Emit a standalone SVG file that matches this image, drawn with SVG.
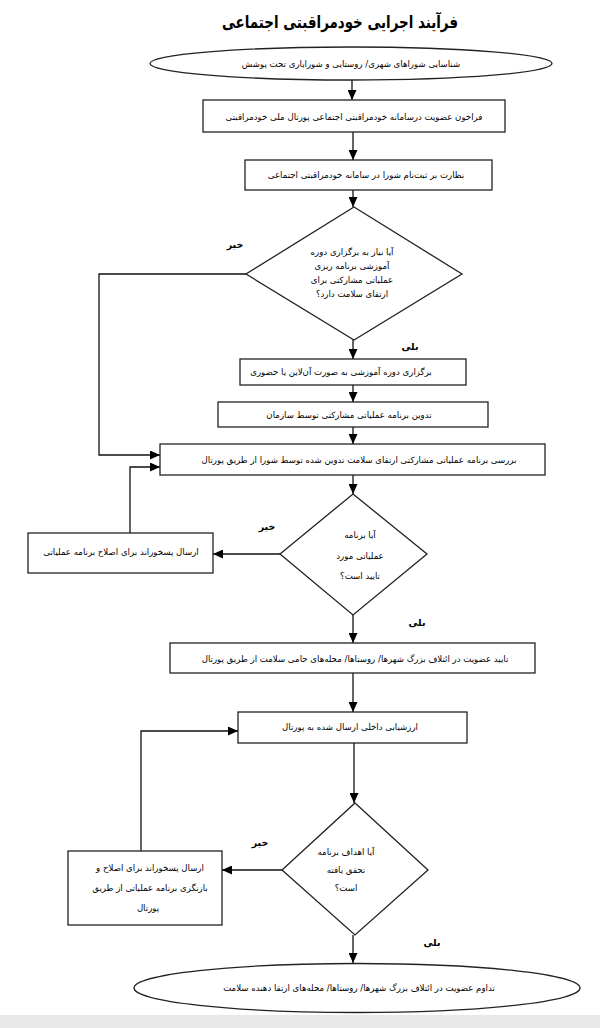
<svg xmlns="http://www.w3.org/2000/svg" width="600" height="1028" viewBox="0 0 600 1028">
<style>
.box{fill:#fff;stroke:#222;stroke-width:1.3}
.t{font-family:"DejaVu Sans",sans-serif;font-size:8.6px;fill:#000;text-anchor:middle;direction:rtl}
.lbl{font-family:"DejaVu Sans",sans-serif;font-size:9.5px;font-weight:bold;fill:#000;text-anchor:middle;direction:rtl}
.ttl{font-family:"DejaVu Sans",sans-serif;font-size:17px;font-weight:bold;fill:#000;text-anchor:middle;direction:rtl}
.c{fill:none;stroke:#111;stroke-width:1.3}
</style>
<defs>
<marker id="ah" markerUnits="userSpaceOnUse" markerWidth="10" markerHeight="9" refX="10" refY="4.5" orient="auto">
<path d="M0,0 L10,4.5 L0,9 z" fill="#000"/>
</marker>
</defs>
<rect x="0" y="1015" width="600" height="13" fill="#e8e8e8"/>
<text class="ttl" x="340" y="28" textLength="236" lengthAdjust="spacingAndGlyphs">فرآیند اجرایی خودمراقبتی اجتماعی</text>
<g id="connectors">
<line class="c" x1="352" y1="80" x2="352" y2="100" marker-end="url(#ah)"/>
<line class="c" x1="353" y1="132" x2="353" y2="160" marker-end="url(#ah)"/>
<line class="c" x1="353" y1="190" x2="353" y2="207" marker-end="url(#ah)"/>
<line class="c" x1="353" y1="340" x2="353" y2="359" marker-end="url(#ah)"/>
<line class="c" x1="353" y1="385" x2="353" y2="402" marker-end="url(#ah)"/>
<line class="c" x1="353" y1="427" x2="353" y2="444" marker-end="url(#ah)"/>
<polyline class="c" points="246,274 99,274 99,455 160,455" marker-end="url(#ah)"/>
<line class="c" x1="353" y1="475" x2="353" y2="494" marker-end="url(#ah)"/>
<line class="c" x1="280" y1="554" x2="213" y2="554" marker-end="url(#ah)"/>
<polyline class="c" points="130,533 130,467 160,467" marker-end="url(#ah)"/>
<line class="c" x1="353" y1="615" x2="353" y2="643" marker-end="url(#ah)"/>
<line class="c" x1="353" y1="673" x2="353" y2="712" marker-end="url(#ah)"/>
<line class="c" x1="354" y1="743" x2="354" y2="803" marker-end="url(#ah)"/>
<line class="c" x1="282" y1="870" x2="222" y2="870" marker-end="url(#ah)"/>
<polyline class="c" points="141,851 141,731 238,731" marker-end="url(#ah)"/>
<line class="c" x1="353" y1="935" x2="353" y2="963" marker-end="url(#ah)"/>
</g>
<g id="start">
<ellipse class="box" cx="351" cy="63.5" rx="201" ry="16.5"/>
<text class="t" x="351" y="67">شناسایی شوراهای شهری/ روستایی و شورایاری تحت پوشش</text>
</g>
<g id="call">
<rect class="box" x="203" y="100" width="302" height="32"/>
<text class="t" x="354" y="120">فراخون عضویت درسامانه خودمراقبتی اجتماعی پورتال ملی خودمراقبتی</text>
</g>
<g id="monitor">
<rect class="box" x="245" y="160" width="247" height="30"/>
<text class="t" x="366" y="178">نظارت بر ثبت‌نام شورا در سامانه خودمراقبتی اجتماعی</text>
</g>
<g id="q1">
<polygon class="box" points="354,207 462,274 354,340 246,274"/>
<text class="t" x="352" y="255">آیا نیاز به برگزاری دوره</text>
<text class="t" x="352" y="269">آموزشی برنامه ریزی</text>
<text class="t" x="352" y="283">عملیاتی مشارکتی برای</text>
<text class="t" x="352" y="297">ارتقای سلامت دارد؟</text>
</g>
<g id="training">
<rect class="box" x="240" y="359" width="226" height="26"/>
<text class="t" x="341" y="375">برگزاری دوره آموزشی به صورت آن‌لاین یا حضوری</text>
</g>
<g id="draft">
<rect class="box" x="218" y="402" width="270" height="25"/>
<text class="t" x="349" y="418">تدوین برنامه عملیاتی مشارکتی توسط سازمان</text>
</g>
<g id="review">
<rect class="box" x="160" y="444" width="385" height="31"/>
<text class="t" x="359" y="463">بررسی برنامه عملیاتی مشارکتی ارتقای سلامت تدوین شده توسط شورا از طریق پورتال</text>
</g>
<g id="q2">
<polygon class="box" points="353,494 427,554 353,615 280,554"/>
<text class="t" x="360" y="538">آیا برنامه</text>
<text class="t" x="360" y="559">عملیاتی مورد</text>
<text class="t" x="360" y="579">تایید است؟</text>
</g>
<g id="feedback1">
<rect class="box" x="28" y="533" width="185" height="40"/>
<text class="t" x="121" y="555">ارسال پسخوراند برای اصلاح برنامه عملیاتی</text>
</g>
<g id="confirm">
<rect class="box" x="170" y="643" width="365" height="30"/>
<text class="t" x="355" y="662">تایید عضویت در ائتلاف بزرگ شهرها/ روستاها/ محله‌های حامی سلامت از طریق پورتال</text>
</g>
<g id="evaluate">
<rect class="box" x="238" y="712" width="229" height="31"/>
<text class="t" x="350" y="730">ارزشیابی داخلی ارسال شده به پورتال</text>
</g>
<g id="q3">
<polygon class="box" points="355,803 428,870 355,935 282,870"/>
<text class="t" x="346" y="855">آیا اهداف برنامه</text>
<text class="t" x="346" y="873">تحقق یافته</text>
<text class="t" x="346" y="891">است؟</text>
</g>
<g id="feedback2">
<rect class="box" x="68" y="851" width="154" height="74"/>
<text class="t" x="150" y="871">ارسال پسخوراند برای اصلاح و</text>
<text class="t" x="150" y="891">بازنگری برنامه عملیاتی از طریق</text>
<text class="t" x="148" y="911">پورتال</text>
</g>
<g id="end">
<ellipse class="box" cx="357" cy="988" rx="223" ry="24.5"/>
<text class="t" x="359" y="991">تداوم عضویت در ائتلاف بزرگ شهرها/ روستاها/ محله‌های ارتقا دهنده سلامت</text>
</g>
<g id="labels">
<text class="lbl" x="235" y="248">خیر</text>
<text class="lbl" x="410" y="350">بلی</text>
<text class="lbl" x="267" y="530">خیر</text>
<text class="lbl" x="417" y="626">بلی</text>
<text class="lbl" x="260" y="846">خیر</text>
<text class="lbl" x="432" y="946">بلی</text>
</g>
</svg>
